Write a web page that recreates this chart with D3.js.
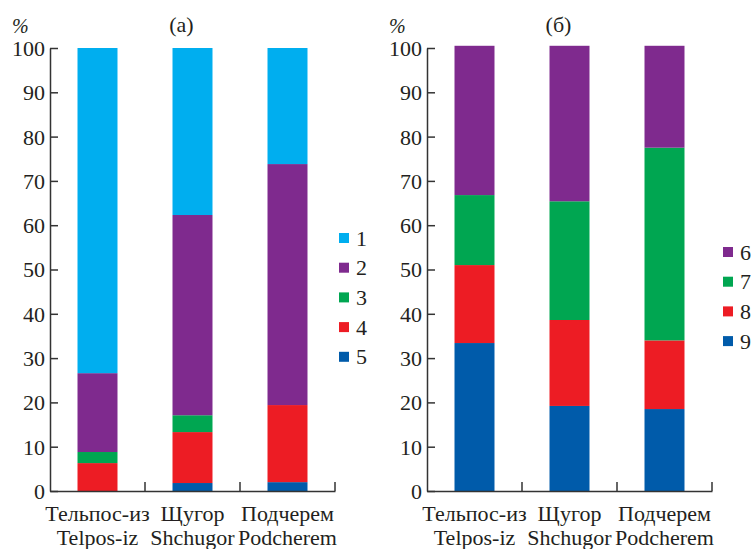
<!DOCTYPE html>
<html>
<head>
<meta charset="utf-8">
<script src="https://cdn.jsdelivr.net/npm/d3@7"></script>
<style>
  body { margin: 0; background: #fff; }
</style>
</head>
<body>
<div id="container"></div>
<script>
const w = 751;
const h = 549;
const font = '"Liberation Serif"';

// categories (two label lines)
const sitesRu = ['Тельпос-из', 'Щугор', 'Подчерем'];
const sitesEn = ['Telpos-iz', 'Shchugor', 'Podcherem'];
const yTicks = [0, 10, 20, 30, 40, 50, 60, 70, 80, 90, 100];

// panel (а): groups 1..5, values in % per site
const keysA = ['1', '2', '3', '4', '5'];
const a1 = [73.4, 37.7, 26.2];
const a2 = [17.8, 45.2, 54.4];
const a3 = [2.5, 3.8, 0];
const a4 = [6.3, 11.5, 17.4];
const a5 = [0, 1.8, 2.0];

// panel (б): groups 6..9
const keysB = ['6', '7', '8', '9'];
const b6 = [33.7, 35.1, 23.0];
const b7 = [15.8, 26.8, 43.5];
const b8 = [17.6, 19.4, 15.5];
const b9 = [33.4, 19.2, 18.5];

const colors = {
  '1': '#00aeef', '2': '#7f2a8e', '3': '#00a651', '4': '#ed1c24', '5': '#005baa',
  '6': '#7f2a8e', '7': '#00a651', '8': '#ed1c24', '9': '#005baa'
};

const svg = d3.select('#container')
  .append('svg')
  .attr('width', w)
  .attr('height', h)
  .attr('viewBox', [0, 0, w, h]);

function label(sel, size) {
  return sel.style('font-family', font)
    .style('font-size', size + 'px')
    .attr('fill', '#231f20');
}

function panel(opt) {
  const {left, right, title, keys, series, legendX, legendY} = opt;
  const top = 48, bottom = 491;

  const rows = sitesRu.map((s, i) => {
    const r = {site: s};
    keys.forEach((k, j) => r[k] = series[j][i]);
    return r;
  });
  // stack from the bottom: last key first
  const stack = d3.stack().keys(keys.slice().reverse())(rows);

  const x = d3.scaleBand()
    .domain(sitesRu)
    .range([left, right])
    .paddingInner(0.579)
    .paddingOuter(0.2895);
  const y = d3.scaleLinear()
    .domain([0, 100])
    .range([bottom, top]);

  const g = svg.append('g');

  g.selectAll('g.layer')
    .data(stack)
    .join('g')
    .attr('class', 'layer')
    .attr('fill', d => colors[d.key])
    .selectAll('rect')
    .data(d => d)
    .join('rect')
    .attr('x', d => x(d.data.site))
    .attr('width', x.bandwidth())
    .attr('y', d => y(d[1]))
    .attr('height', d => y(d[0]) - y(d[1]));

  // y axis, ticks pointing inward
  g.append('g')
    .attr('transform', 'translate(' + left + ',0)')
    .call(d3.axisLeft(y).tickValues(yTicks).tickSizeInner(-8).tickSizeOuter(0).tickPadding(5))
    .call(a => a.selectAll('path, line').attr('stroke', '#333').attr('stroke-width', 1.5))
    .call(a => label(a.selectAll('text'), 22).attr('dy', '0.34em'));

  // x axis with ticks between categories
  g.append('g')
    .attr('transform', 'translate(0,' + bottom + ')')
    .call(d3.axisBottom(x).tickSize(0).tickFormat(''))
    .call(a => a.select('.domain').attr('stroke', '#333').attr('stroke-width', 1.5));
  g.selectAll('line.sep')
    .data(sitesRu)
    .join('line')
    .attr('class', 'sep')
    .attr('x1', (d, i) => left + x.step() * (i + 1))
    .attr('x2', (d, i) => left + x.step() * (i + 1))
    .attr('y1', bottom)
    .attr('y2', bottom - 9)
    .attr('stroke', '#333')
    .attr('stroke-width', 1.5);

  // category labels
  g.selectAll('text.ru')
    .data(sitesRu)
    .join('text')
    .attr('class', 'ru')
    .attr('x', d => x(d) + x.bandwidth() / 2)
    .attr('y', 521)
    .attr('text-anchor', 'middle')
    .call(s => label(s, 22))
    .text(d => d);
  g.selectAll('text.en')
    .data(sitesEn)
    .join('text')
    .attr('class', 'en')
    .attr('x', (d, i) => x(sitesRu[i]) + x.bandwidth() / 2)
    .attr('y', 545)
    .attr('text-anchor', 'middle')
    .call(s => label(s, 22))
    .text(d => d);

  // title and unit
  g.append('text')
    .attr('x', (left + right) / 2 - 11)
    .attr('y', 32)
    .attr('text-anchor', 'middle')
    .call(s => label(s, 22))
    .text(title);
  g.append('text')
    .attr('x', left - 38)
    .attr('y', 33)
    .call(s => label(s, 20))
    .style('font-style', 'italic')
    .text('%');

  // legend
  const leg = g.selectAll('g.leg')
    .data(keys)
    .join('g')
    .attr('class', 'leg')
    .attr('transform', (d, i) => 'translate(' + legendX + ',' + (legendY + i * 29.7) + ')');
  leg.append('rect')
    .attr('x', 0)
    .attr('y', -5)
    .attr('width', 10)
    .attr('height', 10)
    .attr('fill', d => colors[d]);
  leg.append('text')
    .attr('x', 17)
    .attr('y', 7.5)
    .call(s => label(s, 22))
    .text(d => d);
}

panel({left: 50, right: 335, title: '(а)', keys: keysA,
       series: [a1, a2, a3, a4, a5], legendX: 339, legendY: 238});
panel({left: 427, right: 712, title: '(б)', keys: keysB,
       series: [b6, b7, b8, b9], legendX: 723, legendY: 252});
</script>
</body>
</html>
